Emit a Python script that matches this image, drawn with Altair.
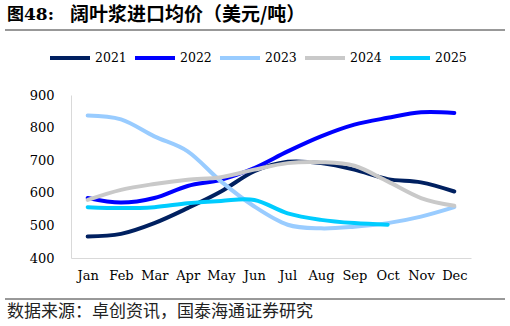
import altair as alt
import pandas as pd

# Monthly average import price of hardwood pulp (USD/ton)
months = ["Jan", "Feb", "Mar", "Apr", "May", "Jun", "Jul", "Aug", "Sep", "Oct", "Nov", "Dec"]
years = ["2021", "2022", "2023", "2024", "2025"]
p2021 = [466, 474, 507, 553, 604, 666, 695, 691, 671, 642, 632, 604]
p2022 = [584, 570, 584, 621, 640, 676, 727, 773, 809, 830, 847, 845]
p2023 = [837, 825, 773, 727, 635, 558, 502, 491, 496, 507, 527, 556]
p2024 = [578, 609, 627, 640, 648, 671, 691, 694, 683, 635, 584, 560]
p2025 = [556, 553, 556, 568, 575, 578, 537, 517, 507, 502]
colors = ["#002060", "#0000FF", "#99CCFF", "#C9C9C9", "#00CCFF"]

series = [p2021, p2022, p2023, p2024, p2025]
rows = []
for yr, vals in zip(years, series):
    for m, v in zip(months, vals):
        rows.append({"month": m, "year": yr, "price": v})
df = pd.DataFrame(rows)

W, H = 400, 163
SERIF = "DejaVu Serif"
CJK = "Noto Sans CJK SC"

lines = alt.Chart(df).mark_line(strokeWidth=4, strokeCap="round", interpolate="cardinal").encode(
    x=alt.X("month:O", sort=months, title=None,
            scale=alt.Scale(type="point", padding=0.5),
            axis=alt.Axis(labelAngle=0, labelFont=SERIF, labelFontSize=13, labelColor="#000000",
                          labelPadding=11, ticks=False, domainColor="#D9D9D9", grid=False)),
    y=alt.Y("price:Q", title=None,
            scale=alt.Scale(domain=[400, 900], nice=False, zero=False),
            axis=alt.Axis(values=[400, 500, 600, 700, 800, 900], labelFont=SERIF, labelFontSize=13,
                          labelColor="#000000", labelPadding=17, ticks=False,
                          domainColor="#D9D9D9", grid=False)),
    color=alt.Color("year:N", sort=years, title=None,
                    scale=alt.Scale(domain=years, range=colors),
                    legend=alt.Legend(orient="none", legendX=-23, legendY=-59, direction="horizontal",
                                      symbolType="stroke", symbolStrokeWidth=4, symbolSize=1600,
                                      labelFont=SERIF, labelFontSize=12.5, labelColor="#000000",
                                      labelOffset=3, columnPadding=0)),
    order=alt.Order("year:N"),
)

one = alt.Data(values=[{}])

def label(text, x, y, font, size, weight="normal", color="#000000"):
    return alt.Chart(one).mark_text(align="left", baseline="middle", font=font, fontSize=size,
                                    fontWeight=weight, color=color).encode(
        x=alt.value(x), y=alt.value(y), text=alt.value(text))

def hline(y):
    return alt.Chart(one).mark_rule(color="#333333", strokeWidth=1).encode(
        x=alt.value(-66), x2=alt.value(434), y=alt.value(y))

title_a = label("图", -64, -80, CJK, 17, "bold")
title_b = label("48:", -47, -80, SERIF, 17, "bold")
title_c = label("阔叶浆进口均价（美元/吨）", -1, -80, CJK, 19, "bold")
source = label("数据来源：卓创资讯，国泰海通证券研究", -64, 217, CJK, 17, "normal", "#222222")

chart = alt.layer(lines, hline(-65), hline(204), title_a, title_b, title_c, source).properties(
    width=W, height=H, autosize="none",
    padding={"left": 71, "top": 95, "right": 39, "bottom": 68},
    background="#FFFFFF",
).configure_view(stroke=None)

chart.save("out.html", embed_options={"renderer": "svg", "actions": False})
